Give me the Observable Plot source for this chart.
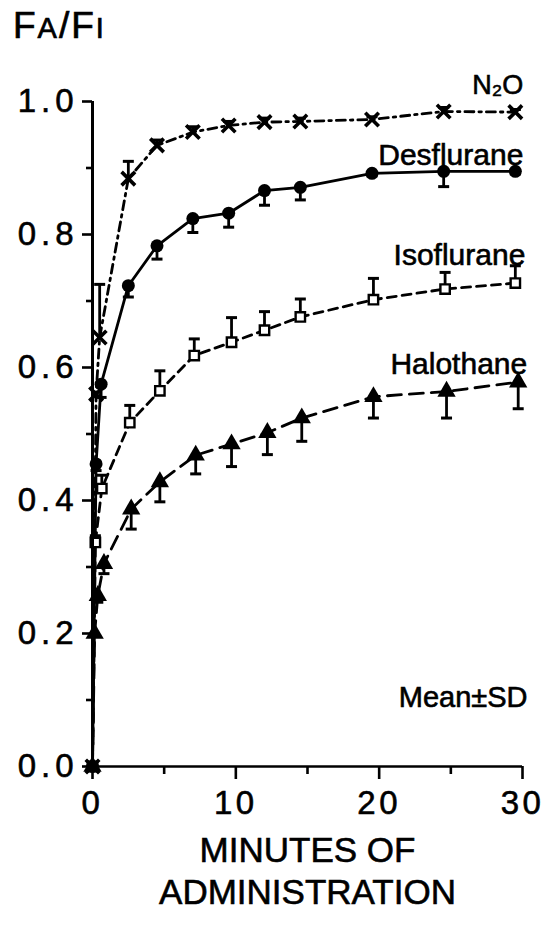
<!DOCTYPE html>
<html><head><meta charset="utf-8">
<script src="https://cdn.jsdelivr.net/npm/d3@7"></script>
<script src="https://cdn.jsdelivr.net/npm/@observablehq/plot@0.6"></script>
<style>
body{margin:0;background:#fff;}
#wrap{position:relative;width:545px;height:926px;font-family:"Liberation Sans",Arial,sans-serif;}
#title{position:absolute;left:13px;top:7px;font-size:37px;color:#000;letter-spacing:2px;line-height:1;white-space:nowrap;-webkit-text-stroke:0.7px #000;}
#title .s{font-size:29px;}
svg text{font-family:"Liberation Sans",Arial,sans-serif;fill:#000;stroke:#000;stroke-width:0.6px;}
g[aria-label="x-axis tick label"] text{letter-spacing:3.5px;}
g[aria-label="y-axis tick label"] text{letter-spacing:5px;}
g[aria-label="series-label"] text{letter-spacing:1.2px;}
g[aria-label="axis-title"] text{letter-spacing:2.3px;}
</style></head><body>
<div id="wrap"><div id="title">F<span class="s">A</span>/F<span class="s">I</span></div></div>
<script>
// ---- data ----
const n2oTimes  = [0, 0.25, 0.5, 2.5, 4.5, 7, 9.5, 12, 14.5, 19.5, 24.5, 29.5];
const n2oValues = [0, 0.56, 0.645, 0.884, 0.934, 0.954, 0.964, 0.969, 0.970, 0.973, 0.985, 0.984];
const n2oSD     = [0, 0, 0.08, 0.026, 0.008, 0.008, 0.006, 0.006, 0.005, 0.004, 0.006, 0.004];

const desTimes  = [0, 0.25, 0.6, 2.5, 4.5, 7, 9.5, 12, 14.5, 19.5, 24.5, 29.5];
const desValues = [0, 0.455, 0.575, 0.723, 0.783, 0.824, 0.832, 0.866, 0.871, 0.892, 0.895, 0.895];
const desSD     = [0, 0.01, 0.02, 0.017, 0.02, 0.021, 0.021, 0.022, 0.019, 0.004, 0.023, 0.004];

const isoTimes  = [0, 0.2, 0.65, 2.6, 4.7, 7.1, 9.7, 12, 14.5, 19.6, 24.6, 29.5];
const isoValues = [0, 0.337, 0.418, 0.517, 0.565, 0.618, 0.638, 0.656, 0.676, 0.702, 0.718, 0.727];
const isoSD     = [0, 0.01, 0.02, 0.026, 0.03, 0.025, 0.037, 0.028, 0.027, 0.032, 0.025, 0.026];

const halTimes  = [0, 0.15, 0.37, 0.8, 2.7, 4.7, 7.2, 9.7, 12.2, 14.6, 19.6, 24.7, 29.7];
const halValues = [0, 0.2, 0.257, 0.305, 0.387, 0.428, 0.468, 0.485, 0.502, 0.524, 0.556, 0.564, 0.578];
const halSD     = [0, 0, 0.01, 0.015, 0.03, 0.03, 0.028, 0.034, 0.033, 0.035, 0.032, 0.04, 0.04];

const seriesNames = ["N₂O", "Desflurane", "Isoflurane", "Halothane"];
const sdSide = [1, -1, 1, -1]; // which side of the mean the SD bar is drawn
const xMajorTicks = [0, 10, 20, 30];
const xMinorTicks = [5, 15, 25];
const yMajorTicks = [0, 0.2, 0.4, 0.6, 0.8, 1.0];
const yMinorTicks = [0.1, 0.3, 0.5, 0.7, 0.9];
const xTitle = "MINUTES OF\nADMINISTRATION";
const note = "Mean±SD";

// ---- build tables ----
const raw = [[n2oTimes, n2oValues, n2oSD], [desTimes, desValues, desSD], [isoTimes, isoValues, isoSD], [halTimes, halValues, halSD]];
const tables = raw.map(([t, v, sd], i) => t.map((tt, j) => ({
  series: seriesNames[i], t: tt, v: v[j], sd: sd[j], end: v[j] + sdSide[i] * sd[j]
})));

const hbar = {draw(ctx, size){ const r = Math.sqrt(size / Math.PI); ctx.moveTo(-r, 0); ctx.lineTo(r, 0); }};

const lineStyles = [
  {strokeDasharray: "9,5,2.5,5"},
  {},
  {strokeDasharray: "9,6"},
  {strokeDasharray: "14,8"}
];
const labelOffsets = [[8, -18], [8, -6], [10, -18], [9, -8]];
const labelSizes = [27, 30, 30, 30];

const marks = [];
tables.forEach((d, i) => marks.push(Plot.line(d, {x: "t", y: "v", stroke: "black", strokeWidth: 2.8, ...lineStyles[i]})));
tables.forEach((d) => {
  const e = d.filter(r => r.sd > 0);
  marks.push(Plot.ruleX(e, {x: "t", y1: "v", y2: "end", stroke: "black", strokeWidth: 2.8}));
  marks.push(Plot.dot(e, {x: "t", y: "end", symbol: hbar, r: 5.5, stroke: "black", strokeWidth: 3, fill: "none"}));
});
marks.push(Plot.dot(tables[0], {x: "t", y: "v", symbol: "times", r: 6.2, stroke: "black", strokeWidth: 3.6}));
marks.push(Plot.dot(tables[1], {x: "t", y: "v", symbol: "circle", r: 6.5, fill: "black", stroke: "none"}));
marks.push(Plot.dot(tables[2], {x: "t", y: "v", symbol: "square", r: 5.3, fill: "white", stroke: "black", strokeWidth: 2.4}));
marks.push(Plot.dot(tables[3], {x: "t", y: "v", symbol: "triangle", r: 6.8, fill: "black", stroke: "none"}));
tables.forEach((d, i) => marks.push(Plot.text([d[d.length - 1]], {
  x: "t", y: "v", text: "series", textAnchor: "end", lineAnchor: "bottom",
  dx: labelOffsets[i][0], dy: labelOffsets[i][1], fontSize: labelSizes[i], ariaLabel: "series-label"
})));
marks.push(Plot.text([note], {frameAnchor: "bottom-right", textAnchor: "end", lineAnchor: "bottom", dx: 5, dy: -60, fontSize: 29, ariaLabel: "series-label"}));
marks.push(Plot.axisX({ticks: xMajorTicks, tickSize: 13, tickPadding: 11, fontSize: 33, strokeWidth: 2.6, label: null}));
marks.push(Plot.axisX({ticks: xMinorTicks, tickSize: 8, strokeWidth: 2.6, text: null, label: null}));
marks.push(Plot.axisY({ticks: yMajorTicks, tickFormat: d3.format(".1f"), tickSize: 10, tickPadding: 4, fontSize: 33, strokeWidth: 2.6, label: null}));
marks.push(Plot.axisY({ticks: yMinorTicks, tickSize: 6, strokeWidth: 2.6, text: null, label: null}));
marks.push(Plot.ruleX([0], {y1: 0, y2: 1, stroke: "black", strokeWidth: 3}));
marks.push(Plot.ruleY([0], {x1: 0, x2: 30, stroke: "black", strokeWidth: 2.6}));
marks.push(Plot.text([xTitle], {frameAnchor: "bottom", lineAnchor: "top", dy: 66, fontSize: 35, lineHeight: 1.2, ariaLabel: "axis-title"}));

const chart = Plot.plot({
  width: 545, height: 926,
  marginLeft: 92, marginRight: 23, marginTop: 101, marginBottom: 160,
  x: {domain: [0, 30]},
  y: {domain: [0, 1]},
  style: {fontFamily: "'Liberation Sans', Arial, sans-serif", background: "white", color: "black", overflow: "visible"},
  marks
});
document.getElementById("wrap").appendChild(chart);
</script>
</body></html>
